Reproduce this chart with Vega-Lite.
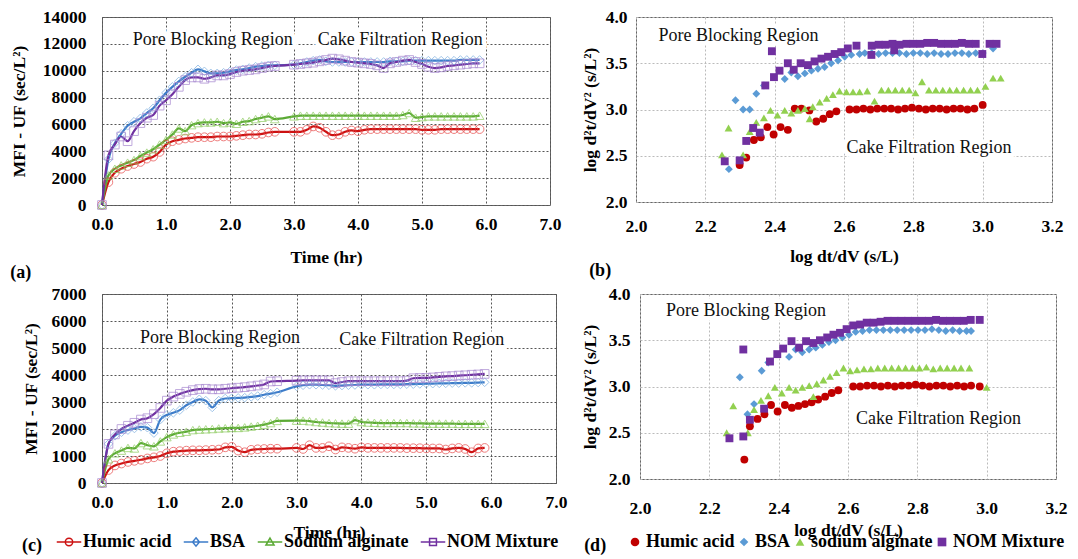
{
"$schema": "https://vega.github.io/schema/vega-lite/v6.json",
"background": "white",
"padding": {"left": 9, "top": 7, "right": 0, "bottom": 0},
"config": {
 "font": "Liberation Serif",
 "view": {"stroke": "#666", "strokeWidth": 1},
 "axis": {"labelFont": "Liberation Serif", "labelFontSize": 17.5, "labelFontWeight": "bold", "labelColor": "#000", "titleFont": "Liberation Serif", "titleFontSize": 17.5, "titleFontWeight": "bold", "titleColor": "#000", "ticks": false, "tickSize": 0, "domain": false, "labelFlush": false, "labelOverlap": false, "labelSeparation": -30, "labelBound": false, "grid": true, "gridDash": [2,2], "gridWidth": 1},
 "axisY": {"labelOverlap": false, "labelSeparation": -30},
 "axisQuantitative": {"labelOverlap": false},
 "title": {"font": "Liberation Serif", "fontSize": 18, "fontWeight": "bold", "color": "#000"}
},
"spacing": 1,
"resolve": {"scale": {"x": "independent", "y": "independent", "color": "independent", "shape": "independent", "stroke": "independent"}, "legend": {"color": "independent", "shape": "independent", "stroke": "independent"}},
"vconcat": [
{"hconcat": [
 {
  "width": 448, "height": 188,
  "title": {"text": "(a)", "orient": "bottom", "anchor": "start", "frame": "bounds", "offset": -2},
  "data": {"values": [
   {"t":0,"Humic acid":0,"BSA":0,"Sodium alginate":0,"NOM Mixture":0},
   {"t":0.1,"Humic acid":1700,"BSA":3400,"Sodium alginate":2200,"NOM Mixture":3700},
   {"t":0.2,"Humic acid":2400,"BSA":4600,"Sodium alginate":2700,"NOM Mixture":4500},
   {"t":0.3,"Humic acid":2700,"BSA":5300,"Sodium alginate":2950,"NOM Mixture":5100},
   {"t":0.4,"Humic acid":2900,"BSA":5900,"Sodium alginate":3150,"NOM Mixture":4750},
   {"t":0.5,"Humic acid":3050,"BSA":6200,"Sodium alginate":3350,"NOM Mixture":5500},
   {"t":0.6,"Humic acid":3200,"BSA":6450,"Sodium alginate":3650,"NOM Mixture":6100},
   {"t":0.7,"Humic acid":3450,"BSA":6850,"Sodium alginate":3900,"NOM Mixture":6500},
   {"t":0.8,"Humic acid":3600,"BSA":7200,"Sodium alginate":4150,"NOM Mixture":6700},
   {"t":0.9,"Humic acid":3950,"BSA":7800,"Sodium alginate":4500,"NOM Mixture":7400},
   {"t":1.0,"Humic acid":4500,"BSA":8350,"Sodium alginate":4850,"NOM Mixture":7800},
   {"t":1.1,"Humic acid":4750,"BSA":8800,"Sodium alginate":5250,"NOM Mixture":8250},
   {"t":1.2,"Humic acid":4850,"BSA":9200,"Sodium alginate":5700,"NOM Mixture":8800},
   {"t":1.3,"Humic acid":4950,"BSA":9550,"Sodium alginate":5500,"NOM Mixture":9300},
   {"t":1.4,"Humic acid":5000,"BSA":9850,"Sodium alginate":5950,"NOM Mixture":9500},
   {"t":1.5,"Humic acid":5050,"BSA":10100,"Sodium alginate":6100,"NOM Mixture":9500},
   {"t":1.6,"Humic acid":5050,"BSA":9950,"Sodium alginate":6150,"NOM Mixture":9400},
   {"t":1.7,"Humic acid":5050,"BSA":9800,"Sodium alginate":6150,"NOM Mixture":9500},
   {"t":1.8,"Humic acid":5100,"BSA":9800,"Sodium alginate":6200,"NOM Mixture":9650},
   {"t":1.9,"Humic acid":5100,"BSA":9850,"Sodium alginate":6100,"NOM Mixture":9650},
   {"t":2.0,"Humic acid":5100,"BSA":9950,"Sodium alginate":6150,"NOM Mixture":9750},
   {"t":2.1,"Humic acid":5150,"BSA":10050,"Sodium alginate":6050,"NOM Mixture":9900},
   {"t":2.2,"Humic acid":5200,"BSA":10100,"Sodium alginate":6200,"NOM Mixture":10000},
   {"t":2.3,"Humic acid":5250,"BSA":10200,"Sodium alginate":6250,"NOM Mixture":10050},
   {"t":2.4,"Humic acid":5250,"BSA":10300,"Sodium alginate":6400,"NOM Mixture":10100},
   {"t":2.5,"Humic acid":5300,"BSA":10350,"Sodium alginate":6500,"NOM Mixture":10200},
   {"t":2.6,"Humic acid":5400,"BSA":10400,"Sodium alginate":6600,"NOM Mixture":10300},
   {"t":2.7,"Humic acid":5450,"BSA":10400,"Sodium alginate":6400,"NOM Mixture":10350},
   {"t":3.0,"Humic acid":5450,"BSA":10450,"Sodium alginate":6600,"NOM Mixture":10450},
   {"t":3.1,"Humic acid":5450,"BSA":10550,"Sodium alginate":6650,"NOM Mixture":10500},
   {"t":3.2,"Humic acid":5600,"BSA":10650,"Sodium alginate":6650,"NOM Mixture":10550},
   {"t":3.3,"Humic acid":5850,"BSA":10750,"Sodium alginate":6650,"NOM Mixture":10600},
   {"t":3.4,"Humic acid":5750,"BSA":10800,"Sodium alginate":6650,"NOM Mixture":10700},
   {"t":3.5,"Humic acid":5450,"BSA":10700,"Sodium alginate":6650,"NOM Mixture":10800},
   {"t":3.6,"Humic acid":5200,"BSA":10650,"Sodium alginate":6650,"NOM Mixture":10900},
   {"t":3.7,"Humic acid":5250,"BSA":10650,"Sodium alginate":6650,"NOM Mixture":10850},
   {"t":3.8,"Humic acid":5450,"BSA":10650,"Sodium alginate":6650,"NOM Mixture":10750},
   {"t":3.9,"Humic acid":5550,"BSA":10650,"Sodium alginate":6650,"NOM Mixture":10650},
   {"t":4.0,"Humic acid":5500,"BSA":10650,"Sodium alginate":6650,"NOM Mixture":10600},
   {"t":4.1,"Humic acid":5600,"BSA":10650,"Sodium alginate":6650,"NOM Mixture":10550},
   {"t":4.2,"Humic acid":5650,"BSA":10650,"Sodium alginate":6650,"NOM Mixture":10500},
   {"t":4.3,"Humic acid":5650,"BSA":10650,"Sodium alginate":6650,"NOM Mixture":10400},
   {"t":4.4,"Humic acid":5650,"BSA":10650,"Sodium alginate":6650,"NOM Mixture":10200},
   {"t":4.5,"Humic acid":5650,"BSA":10700,"Sodium alginate":6650,"NOM Mixture":10550},
   {"t":4.6,"Humic acid":5650,"BSA":10700,"Sodium alginate":6650,"NOM Mixture":10650},
   {"t":4.7,"Humic acid":5650,"BSA":10700,"Sodium alginate":6700,"NOM Mixture":10750},
   {"t":4.8,"Humic acid":5650,"BSA":10750,"Sodium alginate":6850,"NOM Mixture":10800},
   {"t":4.9,"Humic acid":5650,"BSA":10750,"Sodium alginate":6500,"NOM Mixture":10650},
   {"t":5.0,"Humic acid":5600,"BSA":10750,"Sodium alginate":6550,"NOM Mixture":10500},
   {"t":5.1,"Humic acid":5600,"BSA":10750,"Sodium alginate":6600,"NOM Mixture":10300},
   {"t":5.2,"Humic acid":5600,"BSA":10750,"Sodium alginate":6600,"NOM Mixture":10200},
   {"t":5.3,"Humic acid":5650,"BSA":10750,"Sodium alginate":6600,"NOM Mixture":10250},
   {"t":5.4,"Humic acid":5650,"BSA":10750,"Sodium alginate":6600,"NOM Mixture":10350},
   {"t":5.5,"Humic acid":5650,"BSA":10750,"Sodium alginate":6600,"NOM Mixture":10400},
   {"t":5.6,"Humic acid":5650,"BSA":10800,"Sodium alginate":6600,"NOM Mixture":10450},
   {"t":5.7,"Humic acid":5650,"BSA":10800,"Sodium alginate":6600,"NOM Mixture":10500},
   {"t":5.8,"Humic acid":5650,"BSA":10800,"Sodium alginate":6600,"NOM Mixture":10550},
   {"t":5.9,"Humic acid":5650,"BSA":10800,"Sodium alginate":6650,"NOM Mixture":10550}
  ]},
  "transform": [{"fold": ["Humic acid","BSA","Sodium alginate","NOM Mixture"], "as": ["series","value"]}],
  "encoding": {
   "x": {"field": "t", "type": "quantitative", "scale": {"domain": [0,7], "nice": false}, "axis": {"title": "Time (hr)", "values": [0,1,2,3,4,5,6,7], "format": ".1f", "labelOverlap": false, "labelPadding": 10, "titlePadding": 16, "gridColor": "#555"}},
   "y": {"field": "value", "type": "quantitative", "scale": {"domain": [0,14000], "nice": false}, "axis": {"title": "MFI - UF (sec/L²)", "values": [0,2000,4000,6000,8000,10000,12000,14000], "format": "d", "labelOverlap": false, "labelSeparation": -30, "labelPadding": 16, "titlePadding": 14, "gridColor": "#555"}}
  },
  "layer": [
   {"mark": {"type": "line", "interpolate": "monotone", "strokeWidth": 2.2},
    "encoding": {
     "color": {"field": "series", "type": "nominal", "scale": {"domain": ["Humic acid","BSA","Sodium alginate","NOM Mixture"], "range": ["#CC1111","#3D7CC9","#5BAA35","#7030A0"]}, "legend": null}
    }},
   {"transform": [{"filter": {"field": "series", "equal": "Humic acid"}}], "mark": {"type": "point", "shape": "circle", "filled": false, "size": 75, "strokeWidth": 1, "stroke": "#E84545"}},
   {"transform": [{"filter": {"field": "series", "equal": "BSA"}}], "mark": {"type": "point", "shape": "diamond", "filled": false, "size": 75, "strokeWidth": 1, "stroke": "#7AAEE0"}},
   {"transform": [{"filter": {"field": "series", "equal": "Sodium alginate"}}], "mark": {"type": "point", "shape": "triangle-up", "filled": false, "size": 75, "strokeWidth": 1, "stroke": "#8CCB5E"}},
   {"transform": [{"filter": {"field": "series", "equal": "NOM Mixture"}}], "mark": {"type": "point", "shape": "square", "filled": false, "size": 75, "strokeWidth": 1, "stroke": "#A585CF"}},
   {"data": {"values": [{"t": 1.73, "value": 12300, "label": "Pore Blocking Region"}, {"t": 4.66, "value": 12300, "label": "Cake Filtration Region"}]},
    "transform": [],
    "mark": {"type": "text", "font": "Liberation Serif", "fontSize": 18, "stroke": "white", "strokeWidth": 9, "strokeJoin": "round", "fill": "white", "baseline": "middle"},
    "encoding": {"text": {"field": "label"}}},
   {"data": {"values": [{"t": 1.73, "value": 12300, "label": "Pore Blocking Region"}, {"t": 4.66, "value": 12300, "label": "Cake Filtration Region"}]},
    "transform": [],
    "mark": {"type": "text", "font": "Liberation Serif", "fontSize": 18, "color": "#111", "baseline": "middle"},
    "encoding": {"text": {"field": "label"}}}
  ]
 },
 {
  "width": 416, "height": 185,
  "title": {"text": "(b)", "orient": "bottom", "anchor": "start", "frame": "bounds", "offset": -3, "dx": 8},
  "data": {"values": [
   {"s":"Humic acid","x":2.299,"y":2.40},{"s":"Humic acid","x":2.318,"y":2.48},{"s":"Humic acid","x":2.34,"y":2.67},{"s":"Humic acid","x":2.36,"y":2.70},{"s":"Humic acid","x":2.379,"y":2.81},{"s":"Humic acid","x":2.397,"y":2.73},{"s":"Humic acid","x":2.417,"y":2.81},{"s":"Humic acid","x":2.438,"y":2.78},{"s":"Humic acid","x":2.458,"y":3.01},{"s":"Humic acid","x":2.477,"y":3.01},{"s":"Humic acid","x":2.50,"y":2.99},{"s":"Humic acid","x":2.52,"y":2.87},{"s":"Humic acid","x":2.54,"y":2.90},{"s":"Humic acid","x":2.559,"y":2.95},{"s":"Humic acid","x":2.578,"y":2.98},{"s":"Humic acid","x":2.616,"y":3.00},{"s":"Humic acid","x":2.636,"y":3.00},{"s":"Humic acid","x":2.656,"y":3.01},{"s":"Humic acid","x":2.676,"y":3.00},{"s":"Humic acid","x":2.696,"y":3.01},{"s":"Humic acid","x":2.716,"y":3.01},{"s":"Humic acid","x":2.736,"y":3.01},{"s":"Humic acid","x":2.756,"y":3.00},{"s":"Humic acid","x":2.776,"y":3.01},{"s":"Humic acid","x":2.796,"y":3.02},{"s":"Humic acid","x":2.816,"y":3.01},{"s":"Humic acid","x":2.836,"y":3.00},{"s":"Humic acid","x":2.856,"y":3.01},{"s":"Humic acid","x":2.876,"y":3.01},{"s":"Humic acid","x":2.896,"y":3.00},{"s":"Humic acid","x":2.916,"y":3.01},{"s":"Humic acid","x":2.936,"y":3.01},{"s":"Humic acid","x":2.956,"y":3.00},{"s":"Humic acid","x":2.976,"y":3.01},{"s":"Humic acid","x":3.00,"y":3.05},
   {"s":"BSA","x":2.268,"y":2.355},{"s":"BSA","x":2.287,"y":3.10},{"s":"BSA","x":2.309,"y":3.00},{"s":"BSA","x":2.328,"y":3.00},{"s":"BSA","x":2.347,"y":3.17},{"s":"BSA","x":2.369,"y":3.26},{"s":"BSA","x":2.429,"y":3.33},{"s":"BSA","x":2.448,"y":3.40},{"s":"BSA","x":2.467,"y":3.36},{"s":"BSA","x":2.487,"y":3.39},{"s":"BSA","x":2.506,"y":3.42},{"s":"BSA","x":2.525,"y":3.44},{"s":"BSA","x":2.544,"y":3.46},{"s":"BSA","x":2.563,"y":3.50},{"s":"BSA","x":2.583,"y":3.53},{"s":"BSA","x":2.602,"y":3.57},{"s":"BSA","x":2.621,"y":3.59},{"s":"BSA","x":2.645,"y":3.60},{"s":"BSA","x":2.66,"y":3.61},{"s":"BSA","x":2.68,"y":3.61},{"s":"BSA","x":2.70,"y":3.60},{"s":"BSA","x":2.72,"y":3.61},{"s":"BSA","x":2.74,"y":3.61},{"s":"BSA","x":2.76,"y":3.61},{"s":"BSA","x":2.78,"y":3.60},{"s":"BSA","x":2.80,"y":3.61},{"s":"BSA","x":2.82,"y":3.61},{"s":"BSA","x":2.84,"y":3.60},{"s":"BSA","x":2.86,"y":3.61},{"s":"BSA","x":2.88,"y":3.60},{"s":"BSA","x":2.90,"y":3.60},{"s":"BSA","x":2.92,"y":3.61},{"s":"BSA","x":2.94,"y":3.61},{"s":"BSA","x":2.96,"y":3.60},{"s":"BSA","x":2.98,"y":3.61},{"s":"BSA","x":3.00,"y":3.61},{"s":"BSA","x":3.03,"y":3.66},
   {"s":"Sodium alginate","x":2.248,"y":2.51},{"s":"Sodium alginate","x":2.267,"y":2.80},{"s":"Sodium alginate","x":2.309,"y":2.51},{"s":"Sodium alginate","x":2.328,"y":2.76},{"s":"Sodium alginate","x":2.347,"y":2.86},{"s":"Sodium alginate","x":2.369,"y":2.91},{"s":"Sodium alginate","x":2.388,"y":2.99},{"s":"Sodium alginate","x":2.408,"y":2.94},{"s":"Sodium alginate","x":2.429,"y":2.99},{"s":"Sodium alginate","x":2.448,"y":2.96},{"s":"Sodium alginate","x":2.467,"y":2.99},{"s":"Sodium alginate","x":2.487,"y":3.01},{"s":"Sodium alginate","x":2.501,"y":2.90},{"s":"Sodium alginate","x":2.51,"y":3.03},{"s":"Sodium alginate","x":2.53,"y":3.08},{"s":"Sodium alginate","x":2.55,"y":3.12},{"s":"Sodium alginate","x":2.568,"y":3.16},{"s":"Sodium alginate","x":2.587,"y":3.20},{"s":"Sodium alginate","x":2.607,"y":3.19},{"s":"Sodium alginate","x":2.626,"y":3.19},{"s":"Sodium alginate","x":2.645,"y":3.19},{"s":"Sodium alginate","x":2.667,"y":3.20},{"s":"Sodium alginate","x":2.688,"y":3.09},{"s":"Sodium alginate","x":2.708,"y":3.21},{"s":"Sodium alginate","x":2.728,"y":3.21},{"s":"Sodium alginate","x":2.748,"y":3.21},{"s":"Sodium alginate","x":2.768,"y":3.21},{"s":"Sodium alginate","x":2.788,"y":3.21},{"s":"Sodium alginate","x":2.806,"y":3.18},{"s":"Sodium alginate","x":2.825,"y":3.30},{"s":"Sodium alginate","x":2.845,"y":3.21},{"s":"Sodium alginate","x":2.865,"y":3.21},{"s":"Sodium alginate","x":2.885,"y":3.21},{"s":"Sodium alginate","x":2.905,"y":3.21},{"s":"Sodium alginate","x":2.925,"y":3.21},{"s":"Sodium alginate","x":2.945,"y":3.21},{"s":"Sodium alginate","x":2.965,"y":3.21},{"s":"Sodium alginate","x":2.985,"y":3.21},{"s":"Sodium alginate","x":3.008,"y":3.25},{"s":"Sodium alginate","x":3.03,"y":3.34},{"s":"Sodium alginate","x":3.052,"y":3.34},
   {"s":"NOM Mixture","x":2.256,"y":2.44},{"s":"NOM Mixture","x":2.299,"y":2.45},{"s":"NOM Mixture","x":2.318,"y":2.66},{"s":"NOM Mixture","x":2.338,"y":2.80},{"s":"NOM Mixture","x":2.357,"y":2.75},{"s":"NOM Mixture","x":2.373,"y":3.26},{"s":"NOM Mixture","x":2.392,"y":3.63},{"s":"NOM Mixture","x":2.398,"y":3.35},{"s":"NOM Mixture","x":2.414,"y":3.42},{"s":"NOM Mixture","x":2.438,"y":3.50},{"s":"NOM Mixture","x":2.455,"y":3.43},{"s":"NOM Mixture","x":2.475,"y":3.50},{"s":"NOM Mixture","x":2.496,"y":3.48},{"s":"NOM Mixture","x":2.515,"y":3.52},{"s":"NOM Mixture","x":2.535,"y":3.55},{"s":"NOM Mixture","x":2.554,"y":3.57},{"s":"NOM Mixture","x":2.573,"y":3.60},{"s":"NOM Mixture","x":2.592,"y":3.62},{"s":"NOM Mixture","x":2.611,"y":3.66},{"s":"NOM Mixture","x":2.636,"y":3.69},{"s":"NOM Mixture","x":2.679,"y":3.59},{"s":"NOM Mixture","x":2.68,"y":3.69},{"s":"NOM Mixture","x":2.70,"y":3.70},{"s":"NOM Mixture","x":2.72,"y":3.70},{"s":"NOM Mixture","x":2.745,"y":3.64},{"s":"NOM Mixture","x":2.74,"y":3.71},{"s":"NOM Mixture","x":2.76,"y":3.70},{"s":"NOM Mixture","x":2.78,"y":3.71},{"s":"NOM Mixture","x":2.80,"y":3.71},{"s":"NOM Mixture","x":2.82,"y":3.71},{"s":"NOM Mixture","x":2.84,"y":3.72},{"s":"NOM Mixture","x":2.86,"y":3.72},{"s":"NOM Mixture","x":2.88,"y":3.71},{"s":"NOM Mixture","x":2.90,"y":3.71},{"s":"NOM Mixture","x":2.92,"y":3.71},{"s":"NOM Mixture","x":2.94,"y":3.72},{"s":"NOM Mixture","x":2.96,"y":3.71},{"s":"NOM Mixture","x":2.98,"y":3.71},{"s":"NOM Mixture","x":2.999,"y":3.60},{"s":"NOM Mixture","x":3.02,"y":3.71},{"s":"NOM Mixture","x":3.04,"y":3.71}
  ]},
  "encoding": {
   "x": {"field": "x", "type": "quantitative", "scale": {"domain": [2,3.2], "nice": false}, "axis": {"title": "log dt/dV (s/L)", "values": [2.0,2.2,2.4,2.6,2.8,3.0,3.2], "format": ".1f", "labelOverlap": false, "labelPadding": 15, "titlePadding": 13, "gridColor": "#bbb"}},
   "y": {"field": "y", "type": "quantitative", "scale": {"domain": [2,4], "nice": false}, "axis": {"title": "log d²t/dV² (s/L²)", "values": [2.0,2.5,3.0,3.5,4.0], "format": ".1f", "labelOverlap": false, "labelPadding": 9, "titlePadding": 6, "gridColor": "#bbb"}}
  },
  "layer": [
   {"data": {"values": [{"x": 2.296, "y": 3.80, "label": "Pore Blocking Region"}, {"x": 2.845, "y": 2.579, "label": "Cake Filtration Region"}]},
    "mark": {"type": "text", "font": "Liberation Serif", "fontSize": 18, "stroke": "white", "strokeWidth": 9, "strokeJoin": "round", "fill": "white", "baseline": "middle"},
    "encoding": {"text": {"field": "label"}}},
   {"data": {"values": [{"x": 2.296, "y": 3.80, "label": "Pore Blocking Region"}, {"x": 2.845, "y": 2.579, "label": "Cake Filtration Region"}]},
    "mark": {"type": "text", "font": "Liberation Serif", "fontSize": 18, "color": "#111", "baseline": "middle"},
    "encoding": {"text": {"field": "label"}}},
   {"mark": {"type": "point", "filled": true, "size": 62, "opacity": 1},
    "encoding": {
     "color": {"field": "s", "type": "nominal", "scale": {"domain": ["Humic acid","BSA","Sodium alginate","NOM Mixture"], "range": ["#C00000","#5B9BD5","#92D050","#7030A0"]}, "legend": null},
     "shape": {"field": "s", "type": "nominal", "scale": {"domain": ["Humic acid","BSA","Sodium alginate","NOM Mixture"], "range": ["circle","diamond","triangle-up","square"]}, "legend": null}
    }}
  ]
 }
], "spacing": 18, "resolve": {"scale": {"x": "independent", "y": "independent", "color": "independent", "shape": "independent", "stroke": "independent"}, "legend": {"color": "independent", "shape": "independent", "stroke": "independent"}}},
{"hconcat": [
 {
  "width": 454, "height": 189,
  "title": {"text": "(c)", "orient": "bottom", "anchor": "start", "frame": "bounds", "offset": -14},
  "data": {"values": [
   {"t":0,"Humic acid":0,"BSA":0,"Sodium alginate":0,"NOM Mixture":0},
   {"t":0.1,"Humic acid":480,"BSA":1450,"Sodium alginate":880,"NOM Mixture":1450},
   {"t":0.2,"Humic acid":650,"BSA":1750,"Sodium alginate":1100,"NOM Mixture":1800},
   {"t":0.3,"Humic acid":720,"BSA":1880,"Sodium alginate":1200,"NOM Mixture":2000},
   {"t":0.4,"Humic acid":780,"BSA":1960,"Sodium alginate":1300,"NOM Mixture":2120},
   {"t":0.5,"Humic acid":820,"BSA":2020,"Sodium alginate":1280,"NOM Mixture":2230},
   {"t":0.6,"Humic acid":860,"BSA":2080,"Sodium alginate":1480,"NOM Mixture":2350},
   {"t":0.7,"Humic acid":910,"BSA":2050,"Sodium alginate":1400,"NOM Mixture":2400},
   {"t":0.8,"Humic acid":950,"BSA":1850,"Sodium alginate":1360,"NOM Mixture":2550},
   {"t":0.9,"Humic acid":1000,"BSA":2350,"Sodium alginate":1540,"NOM Mixture":2780},
   {"t":1.0,"Humic acid":1100,"BSA":2520,"Sodium alginate":1700,"NOM Mixture":3050},
   {"t":1.1,"Humic acid":1160,"BSA":2600,"Sodium alginate":1800,"NOM Mixture":3200},
   {"t":1.2,"Humic acid":1180,"BSA":2700,"Sodium alginate":1860,"NOM Mixture":3300},
   {"t":1.3,"Humic acid":1200,"BSA":2880,"Sodium alginate":1900,"NOM Mixture":3380},
   {"t":1.4,"Humic acid":1210,"BSA":3000,"Sodium alginate":1960,"NOM Mixture":3440},
   {"t":1.5,"Humic acid":1210,"BSA":3100,"Sodium alginate":1980,"NOM Mixture":3480},
   {"t":1.6,"Humic acid":1220,"BSA":3050,"Sodium alginate":1990,"NOM Mixture":3490},
   {"t":1.7,"Humic acid":1230,"BSA":2800,"Sodium alginate":2000,"NOM Mixture":3470},
   {"t":1.8,"Humic acid":1240,"BSA":3050,"Sodium alginate":2020,"NOM Mixture":3470},
   {"t":1.9,"Humic acid":1320,"BSA":3130,"Sodium alginate":2030,"NOM Mixture":3490},
   {"t":2.0,"Humic acid":1340,"BSA":3140,"Sodium alginate":2040,"NOM Mixture":3510},
   {"t":2.1,"Humic acid":1200,"BSA":3150,"Sodium alginate":2040,"NOM Mixture":3530},
   {"t":2.2,"Humic acid":1140,"BSA":3160,"Sodium alginate":2060,"NOM Mixture":3550},
   {"t":2.3,"Humic acid":1230,"BSA":3190,"Sodium alginate":2090,"NOM Mixture":3580},
   {"t":2.4,"Humic acid":1250,"BSA":3220,"Sodium alginate":2120,"NOM Mixture":3610},
   {"t":2.5,"Humic acid":1260,"BSA":3270,"Sodium alginate":2160,"NOM Mixture":3650},
   {"t":2.6,"Humic acid":1270,"BSA":3310,"Sodium alginate":2220,"NOM Mixture":3760},
   {"t":2.7,"Humic acid":1270,"BSA":3360,"Sodium alginate":2300,"NOM Mixture":3770},
   {"t":3.0,"Humic acid":1300,"BSA":3580,"Sodium alginate":2310,"NOM Mixture":3790},
   {"t":3.1,"Humic acid":1260,"BSA":3620,"Sodium alginate":2310,"NOM Mixture":3800},
   {"t":3.2,"Humic acid":1400,"BSA":3640,"Sodium alginate":2290,"NOM Mixture":3800},
   {"t":3.3,"Humic acid":1300,"BSA":3640,"Sodium alginate":2260,"NOM Mixture":3800},
   {"t":3.4,"Humic acid":1300,"BSA":3630,"Sodium alginate":2240,"NOM Mixture":3800},
   {"t":3.5,"Humic acid":1360,"BSA":3620,"Sodium alginate":2220,"NOM Mixture":3800},
   {"t":3.6,"Humic acid":1240,"BSA":3600,"Sodium alginate":2210,"NOM Mixture":3700},
   {"t":3.7,"Humic acid":1320,"BSA":3610,"Sodium alginate":2200,"NOM Mixture":3740},
   {"t":3.8,"Humic acid":1300,"BSA":3620,"Sodium alginate":2200,"NOM Mixture":3770},
   {"t":3.9,"Humic acid":1270,"BSA":3630,"Sodium alginate":2330,"NOM Mixture":3770},
   {"t":4.0,"Humic acid":1320,"BSA":3640,"Sodium alginate":2260,"NOM Mixture":3770},
   {"t":4.1,"Humic acid":1300,"BSA":3640,"Sodium alginate":2240,"NOM Mixture":3770},
   {"t":4.2,"Humic acid":1300,"BSA":3640,"Sodium alginate":2230,"NOM Mixture":3770},
   {"t":4.3,"Humic acid":1300,"BSA":3650,"Sodium alginate":2220,"NOM Mixture":3770},
   {"t":4.4,"Humic acid":1300,"BSA":3650,"Sodium alginate":2220,"NOM Mixture":3770},
   {"t":4.5,"Humic acid":1300,"BSA":3650,"Sodium alginate":2220,"NOM Mixture":3770},
   {"t":4.6,"Humic acid":1300,"BSA":3650,"Sodium alginate":2220,"NOM Mixture":3770},
   {"t":4.7,"Humic acid":1290,"BSA":3660,"Sodium alginate":2220,"NOM Mixture":3790},
   {"t":4.8,"Humic acid":1290,"BSA":3660,"Sodium alginate":2210,"NOM Mixture":3880},
   {"t":4.9,"Humic acid":1290,"BSA":3670,"Sodium alginate":2210,"NOM Mixture":3890},
   {"t":5.0,"Humic acid":1280,"BSA":3680,"Sodium alginate":2200,"NOM Mixture":3890},
   {"t":5.1,"Humic acid":1280,"BSA":3680,"Sodium alginate":2200,"NOM Mixture":3910},
   {"t":5.2,"Humic acid":1280,"BSA":3690,"Sodium alginate":2200,"NOM Mixture":3930},
   {"t":5.3,"Humic acid":1240,"BSA":3690,"Sodium alginate":2200,"NOM Mixture":3950},
   {"t":5.4,"Humic acid":1280,"BSA":3700,"Sodium alginate":2200,"NOM Mixture":3960},
   {"t":5.5,"Humic acid":1300,"BSA":3700,"Sodium alginate":2190,"NOM Mixture":3980},
   {"t":5.6,"Humic acid":1260,"BSA":3710,"Sodium alginate":2190,"NOM Mixture":3990},
   {"t":5.7,"Humic acid":1140,"BSA":3710,"Sodium alginate":2190,"NOM Mixture":4010},
   {"t":5.8,"Humic acid":1280,"BSA":3720,"Sodium alginate":2190,"NOM Mixture":4020},
   {"t":5.9,"Humic acid":1300,"BSA":3730,"Sodium alginate":2190,"NOM Mixture":4040}
  ]},
  "transform": [{"fold": ["Humic acid","BSA","Sodium alginate","NOM Mixture"], "as": ["series","value"]}],
  "encoding": {
   "x": {"field": "t", "type": "quantitative", "scale": {"domain": [0,7], "nice": false}, "axis": {"title": "Time (hr)", "values": [0,1,2,3,4,5,6,7], "format": ".1f", "labelOverlap": false, "labelPadding": 10, "titlePadding": 13, "gridColor": "#555"}},
   "y": {"field": "value", "type": "quantitative", "scale": {"domain": [0,7000], "nice": false}, "axis": {"title": "MFI - UF (sec/L²)", "values": [0,1000,2000,3000,4000,5000,6000,7000], "format": "d", "labelOverlap": false, "labelSeparation": -30, "labelPadding": 16, "titlePadding": 11, "gridColor": "#555"}}
  },
  "layer": [
   {"mark": {"type": "line", "interpolate": "monotone", "strokeWidth": 2.2},
    "encoding": {
     "color": {"field": "series", "type": "nominal", "scale": {"domain": ["Humic acid","BSA","Sodium alginate","NOM Mixture"], "range": ["#CC1111","#3D7CC9","#5BAA35","#7030A0"]},
      "legend": {"orient": "none", "legendX": -46, "legendY": 235, "direction": "horizontal", "title": null, "labelFont": "Liberation Serif", "labelFontSize": 18, "labelFontWeight": "bold", "labelColor": "#000", "symbolSize": 600, "symbolStrokeWidth": 1.5, "labelOffset": 1, "columnPadding": 8, "labelLimit": 300,
       "encode": {"symbols": {"update": {"shape": {"signal": "datum.value === 'Humic acid' ? 'M-1,0H1M-0.3,0A0.3,0.3,0,1,0,0.3,0A0.3,0.3,0,1,0,-0.3,0' : datum.value === 'BSA' ? 'M-1,0H1M0,-0.34L0.28,0L0,0.34L-0.28,0Z' : datum.value === 'Sodium alginate' ? 'M-1,0H1M0,-0.32L0.33,0.25L-0.33,0.25Z' : 'M-1,0H1M-0.28,-0.28H0.28V0.28H-0.28Z'"}, "fill": {"value": "transparent"}}}}}}
    }},
   {"transform": [{"filter": {"field": "series", "equal": "Humic acid"}}], "mark": {"type": "point", "shape": "circle", "filled": false, "size": 75, "strokeWidth": 1, "stroke": "#E84545"}},
   {"transform": [{"filter": {"field": "series", "equal": "BSA"}}], "mark": {"type": "point", "shape": "diamond", "filled": false, "size": 75, "strokeWidth": 1, "stroke": "#7AAEE0"}},
   {"transform": [{"filter": {"field": "series", "equal": "Sodium alginate"}}], "mark": {"type": "point", "shape": "triangle-up", "filled": false, "size": 75, "strokeWidth": 1, "stroke": "#8CCB5E"}},
   {"transform": [{"filter": {"field": "series", "equal": "NOM Mixture"}}], "mark": {"type": "point", "shape": "square", "filled": false, "size": 75, "strokeWidth": 1, "stroke": "#A585CF"}},
   {"data": {"values": [{"t": 1.82, "value": 5370, "label": "Pore Blocking Region"}, {"t": 4.93, "value": 5310, "label": "Cake Filtration Region"}]},
    "transform": [],
    "mark": {"type": "text", "font": "Liberation Serif", "fontSize": 18, "stroke": "white", "strokeWidth": 9, "strokeJoin": "round", "fill": "white", "baseline": "middle"},
    "encoding": {"text": {"field": "label"}}},
   {"data": {"values": [{"t": 1.82, "value": 5370, "label": "Pore Blocking Region"}, {"t": 4.93, "value": 5310, "label": "Cake Filtration Region"}]},
    "transform": [],
    "mark": {"type": "text", "font": "Liberation Serif", "fontSize": 18, "color": "#111", "baseline": "middle"},
    "encoding": {"text": {"field": "label"}}}
  ]
 },
 {
  "width": 416, "height": 185,
  "title": {"text": "(d)", "orient": "bottom", "anchor": "start", "frame": "bounds", "offset": -14, "dx": 3},
  "data": {"values": [
   {"s":"Humic acid","x":2.301,"y":2.21},{"s":"Humic acid","x":2.317,"y":2.57},{"s":"Humic acid","x":2.339,"y":2.65},{"s":"Humic acid","x":2.359,"y":2.70},{"s":"Humic acid","x":2.378,"y":2.80},{"s":"Humic acid","x":2.397,"y":2.73},{"s":"Humic acid","x":2.418,"y":2.80},{"s":"Humic acid","x":2.438,"y":2.77},{"s":"Humic acid","x":2.457,"y":2.79},{"s":"Humic acid","x":2.476,"y":2.81},{"s":"Humic acid","x":2.495,"y":2.83},{"s":"Humic acid","x":2.514,"y":2.86},{"s":"Humic acid","x":2.534,"y":2.89},{"s":"Humic acid","x":2.553,"y":2.93},{"s":"Humic acid","x":2.572,"y":2.96},{"s":"Humic acid","x":2.615,"y":3.00},{"s":"Humic acid","x":2.635,"y":3.00},{"s":"Humic acid","x":2.655,"y":3.01},{"s":"Humic acid","x":2.675,"y":3.01},{"s":"Humic acid","x":2.695,"y":3.00},{"s":"Humic acid","x":2.715,"y":3.01},{"s":"Humic acid","x":2.735,"y":3.00},{"s":"Humic acid","x":2.755,"y":3.01},{"s":"Humic acid","x":2.775,"y":3.01},{"s":"Humic acid","x":2.795,"y":3.02},{"s":"Humic acid","x":2.815,"y":3.01},{"s":"Humic acid","x":2.835,"y":3.00},{"s":"Humic acid","x":2.855,"y":3.01},{"s":"Humic acid","x":2.875,"y":3.01},{"s":"Humic acid","x":2.895,"y":3.00},{"s":"Humic acid","x":2.915,"y":3.01},{"s":"Humic acid","x":2.935,"y":3.00},{"s":"Humic acid","x":2.955,"y":3.01},{"s":"Humic acid","x":2.98,"y":3.00},
   {"s":"BSA","x":2.288,"y":3.10},{"s":"BSA","x":2.31,"y":2.70},{"s":"BSA","x":2.329,"y":2.81},{"s":"BSA","x":2.351,"y":3.17},{"s":"BSA","x":2.37,"y":3.26},{"s":"BSA","x":2.43,"y":3.32},{"s":"BSA","x":2.449,"y":3.40},{"s":"BSA","x":2.468,"y":3.37},{"s":"BSA","x":2.488,"y":3.40},{"s":"BSA","x":2.507,"y":3.42},{"s":"BSA","x":2.526,"y":3.45},{"s":"BSA","x":2.545,"y":3.48},{"s":"BSA","x":2.564,"y":3.50},{"s":"BSA","x":2.584,"y":3.53},{"s":"BSA","x":2.603,"y":3.56},{"s":"BSA","x":2.622,"y":3.59},{"s":"BSA","x":2.642,"y":3.60},{"s":"BSA","x":2.662,"y":3.61},{"s":"BSA","x":2.682,"y":3.61},{"s":"BSA","x":2.702,"y":3.61},{"s":"BSA","x":2.722,"y":3.61},{"s":"BSA","x":2.742,"y":3.61},{"s":"BSA","x":2.762,"y":3.61},{"s":"BSA","x":2.782,"y":3.61},{"s":"BSA","x":2.802,"y":3.61},{"s":"BSA","x":2.822,"y":3.61},{"s":"BSA","x":2.842,"y":3.62},{"s":"BSA","x":2.862,"y":3.61},{"s":"BSA","x":2.882,"y":3.60},{"s":"BSA","x":2.902,"y":3.61},{"s":"BSA","x":2.922,"y":3.60},{"s":"BSA","x":2.942,"y":3.60},{"s":"BSA","x":2.955,"y":3.60},
   {"s":"sodium alginate","x":2.25,"y":2.50},{"s":"sodium alginate","x":2.269,"y":2.79},{"s":"sodium alginate","x":2.311,"y":2.50},{"s":"sodium alginate","x":2.329,"y":2.75},{"s":"sodium alginate","x":2.349,"y":2.85},{"s":"sodium alginate","x":2.37,"y":2.90},{"s":"sodium alginate","x":2.389,"y":2.99},{"s":"sodium alginate","x":2.409,"y":2.93},{"s":"sodium alginate","x":2.43,"y":2.99},{"s":"sodium alginate","x":2.449,"y":2.96},{"s":"sodium alginate","x":2.468,"y":2.99},{"s":"sodium alginate","x":2.488,"y":3.01},{"s":"sodium alginate","x":2.50,"y":2.89},{"s":"sodium alginate","x":2.51,"y":3.03},{"s":"sodium alginate","x":2.529,"y":3.07},{"s":"sodium alginate","x":2.548,"y":3.11},{"s":"sodium alginate","x":2.567,"y":3.15},{"s":"sodium alginate","x":2.587,"y":3.20},{"s":"sodium alginate","x":2.606,"y":3.17},{"s":"sodium alginate","x":2.626,"y":3.18},{"s":"sodium alginate","x":2.646,"y":3.19},{"s":"sodium alginate","x":2.666,"y":3.19},{"s":"sodium alginate","x":2.686,"y":3.20},{"s":"sodium alginate","x":2.706,"y":3.20},{"s":"sodium alginate","x":2.726,"y":3.20},{"s":"sodium alginate","x":2.746,"y":3.20},{"s":"sodium alginate","x":2.766,"y":3.20},{"s":"sodium alginate","x":2.786,"y":3.20},{"s":"sodium alginate","x":2.806,"y":3.20},{"s":"sodium alginate","x":2.826,"y":3.21},{"s":"sodium alginate","x":2.846,"y":3.19},{"s":"sodium alginate","x":2.866,"y":3.20},{"s":"sodium alginate","x":2.886,"y":3.20},{"s":"sodium alginate","x":2.906,"y":3.20},{"s":"sodium alginate","x":2.926,"y":3.20},{"s":"sodium alginate","x":2.95,"y":3.20},{"s":"sodium alginate","x":3.00,"y":2.99},
   {"s":"NOM Mixture","x":2.258,"y":2.44},{"s":"NOM Mixture","x":2.298,"y":2.46},{"s":"NOM Mixture","x":2.298,"y":3.40},{"s":"NOM Mixture","x":2.317,"y":2.64},{"s":"NOM Mixture","x":2.358,"y":2.76},{"s":"NOM Mixture","x":2.375,"y":3.27},{"s":"NOM Mixture","x":2.396,"y":3.35},{"s":"NOM Mixture","x":2.413,"y":3.41},{"s":"NOM Mixture","x":2.437,"y":3.49},{"s":"NOM Mixture","x":2.459,"y":3.42},{"s":"NOM Mixture","x":2.479,"y":3.49},{"s":"NOM Mixture","x":2.50,"y":3.47},{"s":"NOM Mixture","x":2.519,"y":3.50},{"s":"NOM Mixture","x":2.54,"y":3.53},{"s":"NOM Mixture","x":2.558,"y":3.56},{"s":"NOM Mixture","x":2.577,"y":3.58},{"s":"NOM Mixture","x":2.596,"y":3.62},{"s":"NOM Mixture","x":2.615,"y":3.66},{"s":"NOM Mixture","x":2.635,"y":3.67},{"s":"NOM Mixture","x":2.654,"y":3.69},{"s":"NOM Mixture","x":2.674,"y":3.69},{"s":"NOM Mixture","x":2.694,"y":3.70},{"s":"NOM Mixture","x":2.714,"y":3.71},{"s":"NOM Mixture","x":2.734,"y":3.71},{"s":"NOM Mixture","x":2.754,"y":3.71},{"s":"NOM Mixture","x":2.774,"y":3.71},{"s":"NOM Mixture","x":2.794,"y":3.71},{"s":"NOM Mixture","x":2.814,"y":3.71},{"s":"NOM Mixture","x":2.834,"y":3.71},{"s":"NOM Mixture","x":2.854,"y":3.72},{"s":"NOM Mixture","x":2.874,"y":3.71},{"s":"NOM Mixture","x":2.894,"y":3.71},{"s":"NOM Mixture","x":2.914,"y":3.71},{"s":"NOM Mixture","x":2.934,"y":3.71},{"s":"NOM Mixture","x":2.954,"y":3.72},{"s":"NOM Mixture","x":2.98,"y":3.72}
  ]},
  "encoding": {
   "x": {"field": "x", "type": "quantitative", "scale": {"domain": [2,3.2], "nice": false}, "axis": {"title": "log dt/dV (s/L)", "values": [2.0,2.2,2.4,2.6,2.8,3.0,3.2], "format": ".1f", "labelOverlap": false, "labelPadding": 20, "titlePadding": 5, "gridColor": "#bbb"}},
   "y": {"field": "y", "type": "quantitative", "scale": {"domain": [2,4], "nice": false}, "axis": {"title": "log d²t/dV² (s/L²)", "values": [2.0,2.5,3.0,3.5,4.0], "format": ".1f", "labelOverlap": false, "labelPadding": 10, "titlePadding": 9, "gridColor": "#bbb"}}
  },
  "layer": [
   {"data": {"values": [{"x": 2.306, "y": 3.818, "label": "Pore Blocking Region"}, {"x": 2.861, "y": 2.653, "label": "Cake Filtration Region"}]},
    "mark": {"type": "text", "font": "Liberation Serif", "fontSize": 18, "stroke": "white", "strokeWidth": 9, "strokeJoin": "round", "fill": "white", "baseline": "middle"},
    "encoding": {"text": {"field": "label"}}},
   {"data": {"values": [{"x": 2.306, "y": 3.818, "label": "Pore Blocking Region"}, {"x": 2.861, "y": 2.653, "label": "Cake Filtration Region"}]},
    "mark": {"type": "text", "font": "Liberation Serif", "fontSize": 18, "color": "#111", "baseline": "middle"},
    "encoding": {"text": {"field": "label"}}},
   {"mark": {"type": "point", "filled": true, "size": 62, "opacity": 1},
    "encoding": {
     "color": {"field": "s", "type": "nominal", "scale": {"domain": ["Humic acid","BSA","sodium alginate","NOM Mixture"], "range": ["#C00000","#5B9BD5","#92D050","#7030A0"]},
      "legend": {"orient": "none", "legendX": -14, "legendY": 239, "direction": "horizontal", "title": null, "labelFont": "Liberation Serif", "labelFontSize": 18, "labelFontWeight": "bold", "labelColor": "#000", "symbolSize": 75, "symbolOpacity": 1, "labelOffset": 2, "columnPadding": 0, "labelLimit": 300}},
     "shape": {"field": "s", "type": "nominal", "scale": {"domain": ["Humic acid","BSA","sodium alginate","NOM Mixture"], "range": ["circle","diamond","triangle-up","square"]}, "legend": null}
    }}
  ]
 }
], "spacing": 12, "resolve": {"scale": {"x": "independent", "y": "independent", "color": "independent", "shape": "independent", "stroke": "independent"}, "legend": {"color": "independent", "shape": "independent", "stroke": "independent"}}}
]
}
